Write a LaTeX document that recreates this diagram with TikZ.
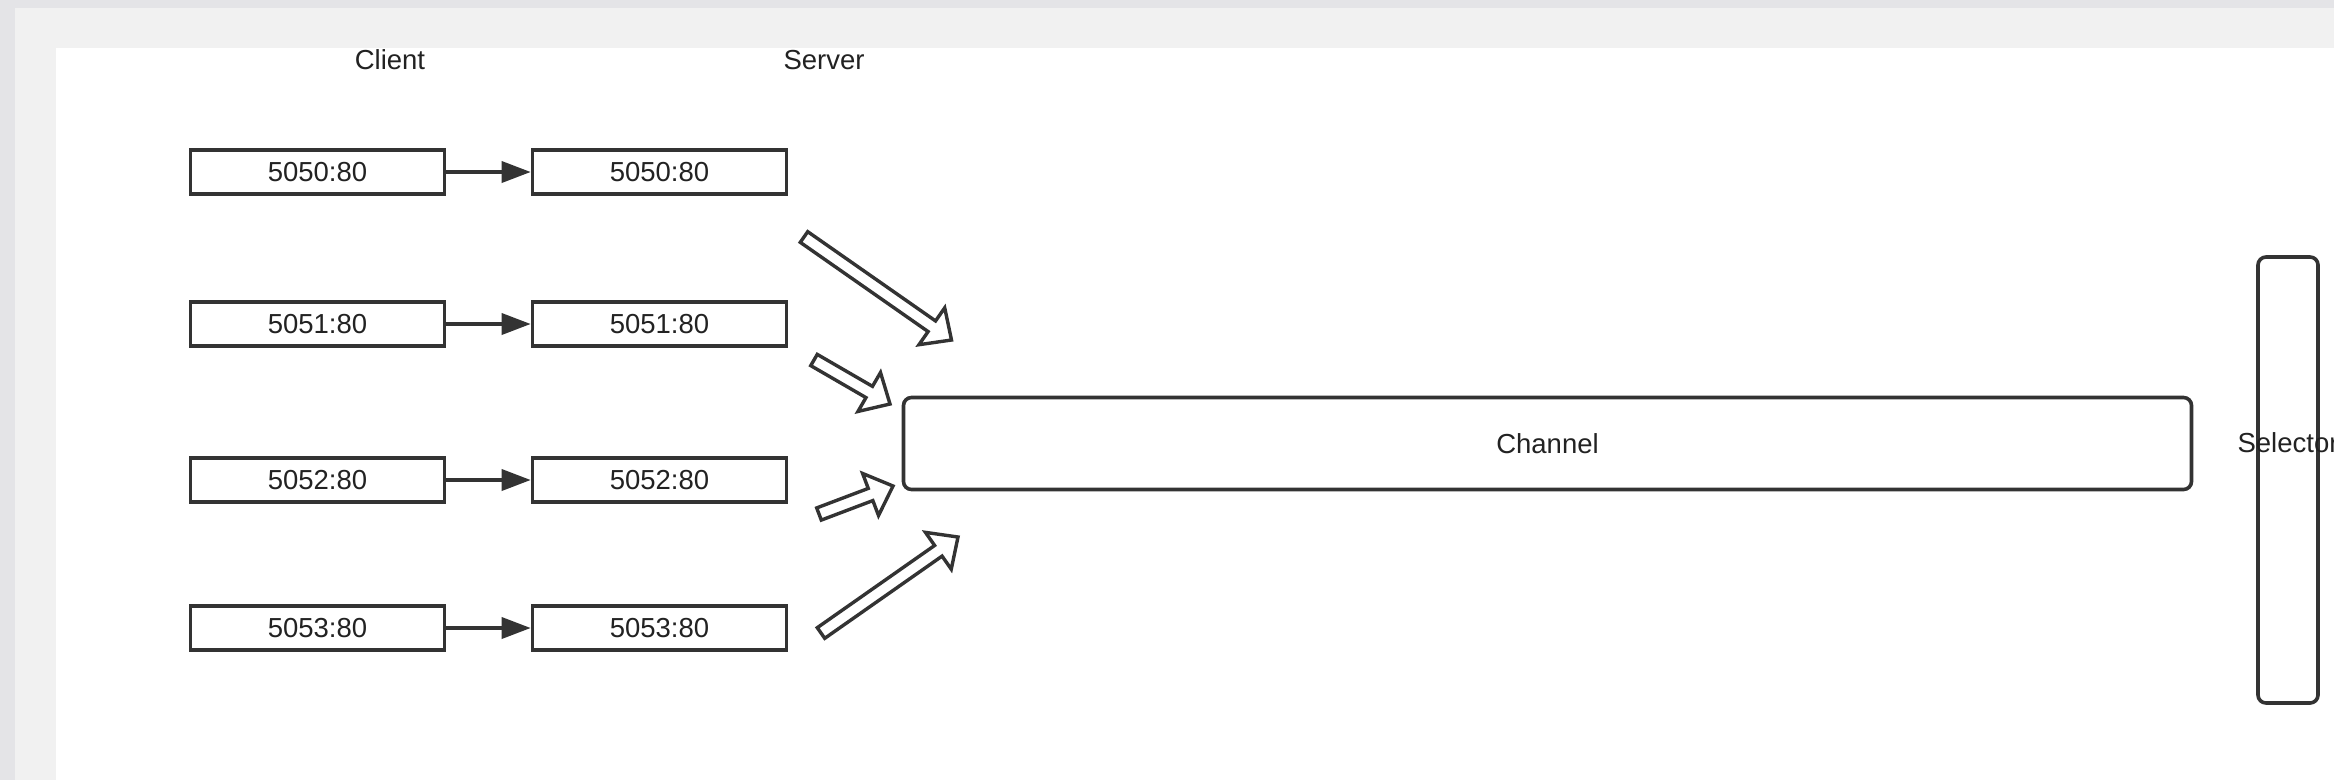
\documentclass[tikz,border=0pt]{standalone}
\usepackage{fontspec}
\setmainfont{Liberation Sans}
\usetikzlibrary{calc,arrows.meta}
\definecolor{edge}{HTML}{333333}
\definecolor{txt}{HTML}{222222}
\definecolor{outerbg}{HTML}{E4E4E7}
\definecolor{panelbg}{HTML}{F1F1F1}
\newcommand\drawblockarrow[3]{%
  \coordinate (#3hb) at ($(#2)!24pt!(#1)$);
  \draw[barrow] ($(#1)!6.5pt!90:(#2)$) -- ($(#3hb)!6.5pt!90:(#2)$) -- ($(#3hb)!22.5pt!90:(#2)$) -- (#2)
     -- ($(#3hb)!22.5pt!-90:(#2)$) -- ($(#3hb)!6.5pt!-90:(#2)$) -- ($(#1)!6.5pt!-90:(#2)$) -- cycle;}
\begin{document}
\begin{tikzpicture}[x=1pt,y=1pt,
  portbox/.style={draw=edge, line width=3.6pt, minimum width=254pt, minimum height=44pt, inner sep=0pt, fill=white, font=\fontsize{27.5}{32}\selectfont, text=txt},
  conn/.style={draw=edge, line width=3.6pt, -{Triangle[length=29pt,width=21pt]}},
  barrow/.style={draw=edge, line width=3.4pt, fill=white, line join=miter},
  lbl/.style={font=\fontsize{27.5}{32}\selectfont, text=txt, inner sep=0pt},
  roundbox/.style={draw=edge, line width=3.6pt, rounded corners=8pt, inner sep=0pt}
]
\useasboundingbox (0,0) rectangle (2334,-780);
\fill[outerbg] (0,0) rectangle (2334,-780);
\fill[panelbg] (15,-8) rectangle (2334,-780);
\fill[white] (56,-48) rectangle (2334,-780);

\node[lbl] (client) at (390,-60) {Client};
\node[lbl] (server) at (824,-60) {Server};

\node[portbox] (c0) at (317.5,-172) {5050:80};
\node[portbox] (c1) at (317.5,-324) {5051:80};
\node[portbox] (c2) at (317.5,-480) {5052:80};
\node[portbox] (c3) at (317.5,-628) {5053:80};
\node[portbox] (s0) at (659.5,-172) {5050:80};
\node[portbox] (s1) at (659.5,-324) {5051:80};
\node[portbox] (s2) at (659.5,-480) {5052:80};
\node[portbox] (s3) at (659.5,-628) {5053:80};

\draw[conn] (c0) -- (s0);
\draw[conn] (c1) -- (s1);
\draw[conn] (c2) -- (s2);
\draw[conn] (c3) -- (s3);

\node[roundbox, minimum width=1288pt, minimum height=92pt, font=\fontsize{27.5}{32}\selectfont, text=txt] (channel) at (1547.5,-443.5) {Channel};
\node[roundbox, minimum width=60pt, minimum height=446pt] (selector) at (2288,-480) {};
\node[lbl] (selectorlabel) at (2288,-443) {Selector};

\coordinate (t0) at (804,-237);
\coordinate (h0) at (951.5,-340);
\coordinate (t1) at (814,-360);
\coordinate (h1) at (890,-404);
\coordinate (t2) at (819,-514);
\coordinate (h2) at (893,-486);
\coordinate (t3) at (821,-633);
\coordinate (h3) at (958,-537);
\drawblockarrow{t0}{h0}{a0}
\drawblockarrow{t1}{h1}{a1}
\drawblockarrow{t2}{h2}{a2}
\drawblockarrow{t3}{h3}{a3}
\end{tikzpicture}
\end{document}
